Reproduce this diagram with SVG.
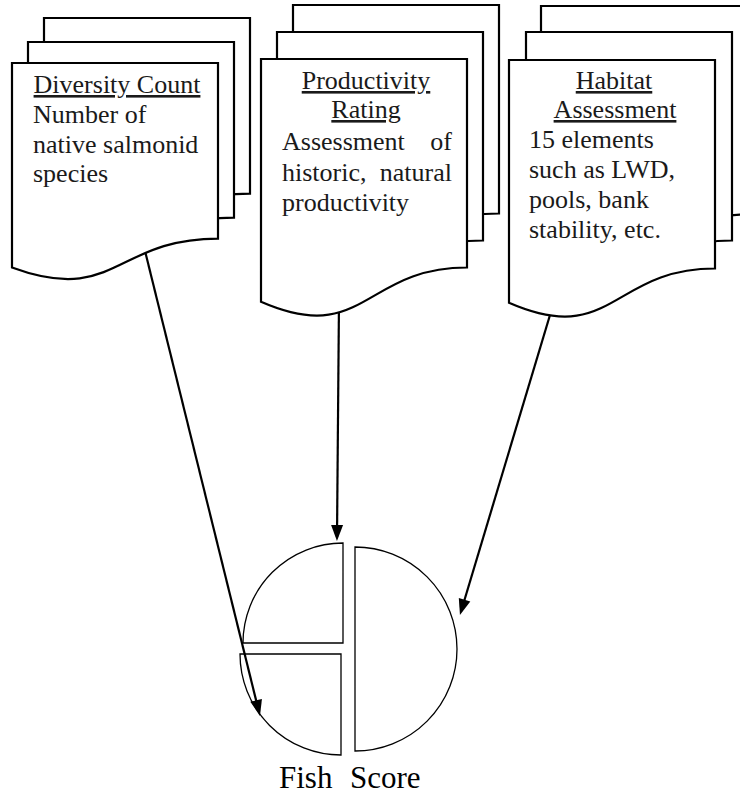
<svg xmlns="http://www.w3.org/2000/svg" width="740" height="794" viewBox="0 0 740 794">
  <style>
    .doc { fill: #ffffff; stroke: #000000; stroke-width: 2.2; stroke-linejoin: miter; }
    .pie { fill: none; stroke: #000000; stroke-width: 1.3; }
    .conn { fill: none; stroke: #000000; stroke-width: 2.2; marker-end: url(#arrow); }
    .t { font-size: 26px; fill: #1a1a1a; }
    .u { text-decoration: underline; text-anchor: middle; }
    .e { text-anchor: end; }
    .big { font-size: 31px; fill: #000000; }
  </style>
  <defs>
    <marker id="arrow" markerUnits="userSpaceOnUse" markerWidth="16" markerHeight="12" refX="12" refY="6" orient="auto" overflow="visible">
      <path d="M0,0 L16,6 L0,12 Z" fill="#000000"/>
    </marker>
  </defs>

  <g id="connectors">
    <line class="conn" x1="142.3" y1="240" x2="259" y2="712"/>
    <line class="conn" x1="339" y1="300" x2="337" y2="537"/>
    <line class="conn" x1="553" y1="305" x2="461.1" y2="611.2"/>
  </g>

  <g id="node-diversity" font-family="'Liberation Serif', 'DejaVu Serif', serif">
    <path class="doc" d="M44,18 H250 V193.6 C147,193.6 147,260.4 44,222.5 Z"/>
    <path class="doc" d="M28,42 H234 V217.6 C131,217.6 131,284.4 28,246.5 Z"/>
    <path class="doc" d="M12,63 H218 V238.6 C115,238.6 115,305.4 12,267.5 Z"/>
    <text class="t u" x="117" y="93">Diversity Count</text>
    <text class="t" x="33" y="123">Number of</text>
    <text class="t" x="33" y="153">native salmonid</text>
    <text class="t" x="33" y="182">species</text>
  </g>

  <g id="node-productivity" font-family="'Liberation Serif', 'DejaVu Serif', serif">
    <path class="doc" d="M293,5 H499 V213.5 C396,213.5 396,292.8 293,247.8 Z"/>
    <path class="doc" d="M277,32 H483 V240.5 C380,240.5 380,319.8 277,274.8 Z"/>
    <path class="doc" d="M261,59 H467 V267.5 C364,267.5 364,346.8 261,301.8 Z"/>
    <text class="t u" x="366" y="89">Productivity</text>
    <text class="t u" x="366" y="118">Rating</text>
    <text class="t" x="282" y="150">Assessment</text>
    <text class="t e" x="452" y="150">of</text>
    <text class="t" x="282" y="181">historic,</text>
    <text class="t e" x="452" y="181">natural</text>
    <text class="t" x="282" y="211">productivity</text>
  </g>

  <g id="node-habitat" font-family="'Liberation Serif', 'DejaVu Serif', serif">
    <path class="doc" d="M541,6 H747 V214.5 C644,214.5 644,293.8 541,248.8 Z"/>
    <path class="doc" d="M526,32 H732 V240.5 C629,240.5 629,319.8 526,274.8 Z"/>
    <path class="doc" d="M509,60 H715 V268.5 C612,268.5 612,347.8 509,302.8 Z"/>
    <text class="t u" x="614" y="89">Habitat</text>
    <text class="t u" x="615" y="118">Assessment</text>
    <text class="t" x="529" y="148">15 elements</text>
    <text class="t" x="529" y="178">such as LWD,</text>
    <text class="t" x="529" y="208">pools, bank</text>
    <text class="t" x="529" y="238">stability, etc.</text>
  </g>

  <g id="node-fish-score" font-family="'Liberation Serif', 'DejaVu Serif', serif">
    <path class="pie" d="M343,643 V543 A100,100 0 0 0 243,643 Z"/>
    <path class="pie" d="M341,654 H240 A101,101 0 0 0 341,755 Z"/>
    <path class="pie" d="M355,547 A102,102 0 0 1 355,751 Z"/>
    <text class="big" x="279" y="788">Fish</text>
    <text class="big" x="350" y="788">Score</text>
  </g>
</svg>
